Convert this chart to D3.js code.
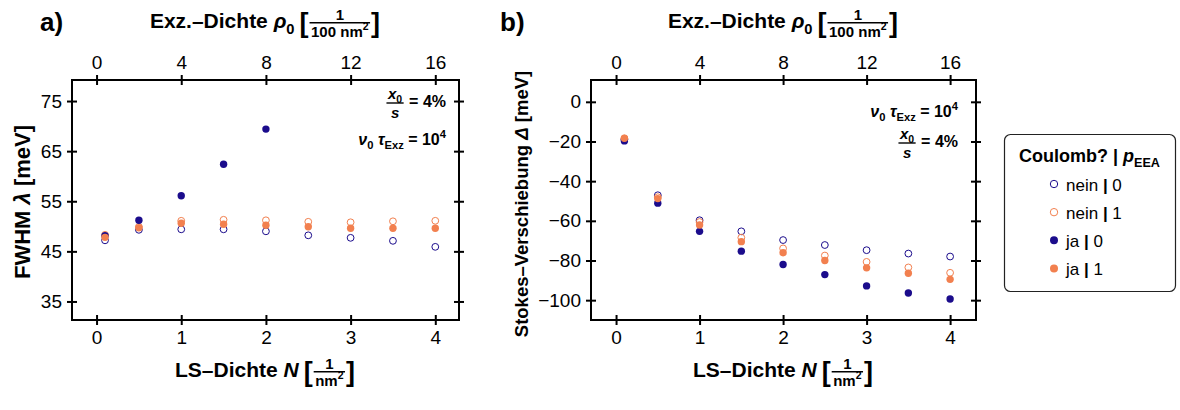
<!DOCTYPE html>
<html><head><meta charset="utf-8">
<script src="https://cdn.jsdelivr.net/npm/d3@7"></script>
<style>
body{margin:0;background:#fff}
svg{font-family:"Liberation Sans",Arial,Helvetica,sans-serif}
text{white-space:pre}
</style>
</head><body>
<svg id="chart" width="1180" height="410"></svg>
<script>
// ---------- data ----------
const lsDensity   = [0.1, 0.5, 1, 1.5, 2, 2.5, 3, 3.5, 4];
const fwhmNein0   = [47.2, 49.3, 49.4, 49.4, 49.0, 48.2, 47.7, 47.1, 45.9];
const fwhmNein1   = [48.3, 49.9, 51.1, 51.3, 51.2, 50.9, 50.8, 51.0, 51.1];
const fwhmJa0     = [48.1, 51.2, 56.1, 62.4, 69.4];
const fwhmJa1     = [47.8, 49.7, 50.6, 50.4, 50.2, 49.9, 49.6, 49.6, 49.6];
const stokesNein0 = [-19.0, -47.1, -59.7, -65.3, -69.7, -72.2, -74.8, -76.5, -78.0];
const stokesNein1 = [-18.5, -48.1, -60.6, -68.5, -73.9, -77.5, -80.7, -83.5, -86.2];
const stokesJa0   = [-19.7, -51.1, -65.3, -75.3, -82.0, -87.1, -92.8, -96.4, -99.4];
const stokesJa1   = [-18.4, -48.8, -62.1, -70.5, -76.1, -80.0, -83.7, -86.4, -89.5];
const bottomTicks = [0, 1, 2, 3, 4];
const topTicks    = [0, 4, 8, 12, 16];
const fwhmTicks   = [35, 45, 55, 65, 75];
const stokesTicks = [0, -20, -40, -60, -80, -100];
const legendLabels = ["nein", "nein", "ja", "ja"];
const legendValues = ["0", "1", "0", "1"];

// ---------- style ----------
const BLUE = "#1b0c8c", ORANGE = "#f2804f";
const seriesStyle = [
  {color: BLUE, filled: false},
  {color: ORANGE, filled: false},
  {color: BLUE, filled: true},
  {color: ORANGE, filled: true}
];
const svg = d3.select("#chart");

// ---------- math-ish text helpers ----------
function addSpans(t, spans, fs) {
  let cur = 0;
  spans.forEach(sp => {
    const target = sp.sub ? 0.28 * fs : (sp.sup ? -0.42 * fs : 0);
    const ts = t.append("tspan").text(sp.s);
    if (target - cur !== 0) ts.attr("dy", target - cur);
    cur = target;
    if (sp.sub || sp.sup) ts.style("font-size", (0.7 * fs) + "px");
    if (sp.i) ts.style("font-style", "italic");
    if (sp.w) ts.style("font-weight", sp.w);
  });
}
function mathRow(g, parts, fs, weight) {
  weight = weight || "bold";
  let x = 0;
  const axisH = fs * 0.25;
  parts.forEach(p => {
    if (p.gap) { x += p.gap; return; }
    if (p.frac) {
      const ff = p.size || fs * 0.72;
      const gp = p.sep || 3;
      const num = g.append("text").attr("text-anchor", "middle")
        .style("font-size", ff + "px").style("font-weight", weight);
      addSpans(num, p.num, ff);
      const den = g.append("text").attr("text-anchor", "middle")
        .style("font-size", ff + "px").style("font-weight", weight);
      addSpans(den, p.den, ff);
      const w = Math.max(num.node().getComputedTextLength(), den.node().getComputedTextLength()) + 3;
      num.attr("x", x + w / 2).attr("y", -axisH - gp);
      den.attr("x", x + w / 2).attr("y", -axisH + gp + 0.72 * ff);
      g.append("line").attr("x1", x).attr("x2", x + w)
        .attr("y1", -axisH).attr("y2", -axisH)
        .attr("stroke", "#000").attr("stroke-width", 1.4);
      x += w + 1;
      return;
    }
    if (p.br) {
      const B = p.size;
      const t = g.append("text").attr("x", x)
        .attr("y", -axisH + 2.5 + 0.26 * B)
        .style("font-size", B + "px").style("font-weight", "bold").text(p.br);
      x += t.node().getComputedTextLength() + 1;
      return;
    }
    const t = g.append("text").attr("x", x).attr("y", 0)
      .style("font-size", fs + "px").style("font-weight", weight);
    addSpans(t, p.spans, fs);
    x += t.node().getComputedTextLength();
  });
  return x;
}
function placeRow(parts, fs, x, y, anchor, rotate, weight) {
  const outer = svg.append("g");
  const inner = outer.append("g");
  const w = mathRow(inner, parts, fs, weight);
  const dx = anchor === "middle" ? -w / 2 : (anchor === "end" ? -w : 0);
  inner.attr("transform", `translate(${dx},0)`);
  outer.attr("transform", `translate(${x},${y})` + (rotate ? ` rotate(${rotate})` : ""));
  return outer;
}

// ---------- panels ----------
function panel(cfg) {
  const {left, right, top, bottom} = cfg;
  const x = d3.scaleLinear().domain(cfg.xDomain).range([left, right]);
  const xt = d3.scaleLinear().domain(cfg.xDomain.map(v => v * 4)).range([left, right]);
  const y = d3.scaleLinear().domain(cfg.yDomain).range([bottom, top]);
  const g = svg.append("g");
  const fmt = d3.format("d");

  function styleAxis(sel) {
    sel.select(".domain").remove();
    sel.selectAll(".tick line").attr("stroke", "#000").attr("stroke-width", 2);
    sel.selectAll(".tick text").style("font-size", "19px")
      .style("font-family", '"Liberation Sans",Arial,sans-serif').attr("fill", "#000");
  }
  // bottom
  g.append("g").attr("transform", `translate(0,${bottom})`)
    .call(d3.axisBottom(x).tickValues(bottomTicks).tickFormat(fmt).tickSizeInner(5).tickSizeOuter(0).tickPadding(6)).call(styleAxis);
  g.append("g").attr("transform", `translate(0,${bottom})`)
    .call(d3.axisBottom(x).tickValues(bottomTicks).tickFormat("").tickSizeInner(-5).tickSizeOuter(0)).call(styleAxis);
  // top
  g.append("g").attr("transform", `translate(0,${top})`)
    .call(d3.axisTop(xt).tickValues(topTicks).tickFormat(fmt).tickSizeInner(5).tickSizeOuter(0).tickPadding(6)).call(styleAxis);
  g.append("g").attr("transform", `translate(0,${top})`)
    .call(d3.axisTop(xt).tickValues(topTicks).tickFormat("").tickSizeInner(-5).tickSizeOuter(0)).call(styleAxis);
  // left
  g.append("g").attr("transform", `translate(${left},0)`)
    .call(d3.axisLeft(y).tickValues(cfg.yTicks).tickFormat(fmt).tickSizeInner(5).tickSizeOuter(0).tickPadding(5)).call(styleAxis);
  g.append("g").attr("transform", `translate(${left},0)`)
    .call(d3.axisLeft(y).tickValues(cfg.yTicks).tickFormat("").tickSizeInner(-5).tickSizeOuter(0)).call(styleAxis);
  // right
  g.append("g").attr("transform", `translate(${right},0)`)
    .call(d3.axisRight(y).tickValues(cfg.yTicks).tickFormat("").tickSizeInner(5).tickSizeOuter(0)).call(styleAxis);
  g.append("g").attr("transform", `translate(${right},0)`)
    .call(d3.axisRight(y).tickValues(cfg.yTicks).tickFormat("").tickSizeInner(-5).tickSizeOuter(0)).call(styleAxis);
  // frame
  g.append("rect").attr("x", left).attr("y", top).attr("width", right - left).attr("height", bottom - top)
    .attr("fill", "none").attr("stroke", "#000").attr("stroke-width", 2);

  // data
  cfg.series.forEach((vals, si) => {
    const st = seriesStyle[si];
    g.append("g").selectAll("circle").data(vals).join("circle")
      .attr("cx", (d, i) => x(lsDensity[i]))
      .attr("cy", d => y(d))
      .attr("r", st.filled ? 3.7 : 3.4)
      .attr("fill", st.filled ? st.color : "none")
      .attr("stroke", st.filled ? "none" : st.color)
      .attr("stroke-width", 1);
  });
  return {x, y};
}

const A = {left: 72, right: 459, top: 80, bottom: 320};
const Bp = {left: 591, right: 976, top: 80, bottom: 320};

panel(Object.assign({}, A, {xDomain: [-0.29, 4.28], yDomain: [31.3, 79.2], yTicks: fwhmTicks,
  series: [fwhmNein0, fwhmNein1, fwhmJa0, fwhmJa1]}));
panel(Object.assign({}, Bp, {xDomain: [-0.3, 4.31], yDomain: [-110, 11], yTicks: stokesTicks,
  series: [stokesNein0, stokesNein1, stokesJa0, stokesJa1]}));

// ---------- titles ----------
const topTitle = [
  {spans: [{s: "Exz.–Dichte "}, {s: "ρ", i: 1}, {s: "0", sub: 1}]},
  {gap: 5}, {br: "[", size: 27},
  {frac: 1, size: 15, num: [{s: "1"}], den: [{s: "100 nm"}, {s: "2", sup: 1}]},
  {br: "]", size: 27}
];
const bottomTitle = [
  {spans: [{s: "LS–Dichte "}, {s: "N", i: 1}]},
  {gap: 5}, {br: "[", size: 27},
  {frac: 1, size: 15, num: [{s: "1"}], den: [{s: "nm"}, {s: "2", sup: 1}]},
  {br: "]", size: 27}
];
[A, Bp].forEach(p => {
  const cx = (p.left + p.right) / 2;
  placeRow(topTitle, 21, cx, 28, "middle");
  placeRow(bottomTitle, 21, cx, 377, "middle");
});
placeRow([{spans: [{s: "FWHM "}, {s: "λ", i: 1}, {s: " [meV]"}]}], 22, 30, 202, "middle", -90);
placeRow([{spans: [{s: "Stokes–Verschiebung "}, {s: "Δ", i: 1}, {s: " [meV]"}]}], 18.5, 528, 204, "middle", -90);

svg.append("text").attr("x", 40).attr("y", 31).style("font-size", "26px").style("font-weight", "bold").text("a)");
svg.append("text").attr("x", 500).attr("y", 31).style("font-size", "26px").style("font-weight", "bold").text("b)");

// ---------- annotations ----------
const fracNote = [
  {frac: 1, size: 15, sep: 4.5, num: [{s: "x", i: 1}, {s: "0", sub: 1}], den: [{s: "s", i: 1}]},
  {spans: [{s: " = 4%"}]}
];
const nuNote = [{spans: [{s: "ν", i: 1}, {s: "0", sub: 1}, {s: " "}, {s: "τ", i: 1}, {s: "Exz", sub: 1}, {s: " = 10"}, {s: "4", sup: 1}]}];
placeRow(fracNote, 16, 446, 107, "end");
placeRow(nuNote, 16, 446, 145, "end");
placeRow(nuNote, 16, 958, 117, "end");
placeRow(fracNote, 16, 958, 147, "end");

// ---------- legend ----------
svg.append("rect").attr("x", 1004.5).attr("y", 134.5).attr("width", 171).attr("height", 157)
  .attr("rx", 6).attr("fill", "#fff").attr("stroke", "#222").attr("stroke-width", 1.2);
placeRow([{spans: [{s: "Coulomb? | "}, {s: "p", i: 1}, {s: "EEA", sub: 1}]}], 18, 1089.5, 162, "middle");
const legY = d3.scaleLinear().domain([0, 3]).range([184, 268.5]);
legendLabels.forEach((lab, i) => {
  const st = seriesStyle[i];
  svg.append("circle").attr("cx", 1054).attr("cy", legY(i)).attr("r", st.filled ? 4 : 3.7)
    .attr("fill", st.filled ? st.color : "none").attr("stroke", st.filled ? "none" : st.color).attr("stroke-width", 1);
  const t = svg.append("text").attr("x", 1066).attr("y", legY(i) + 6.5).style("font-size", "17px");
  t.append("tspan").text(lab + " ");
  t.append("tspan").style("font-weight", "bold").text("|");
  t.append("tspan").text(" " + legendValues[i]);
});
</script>
</body></html>
